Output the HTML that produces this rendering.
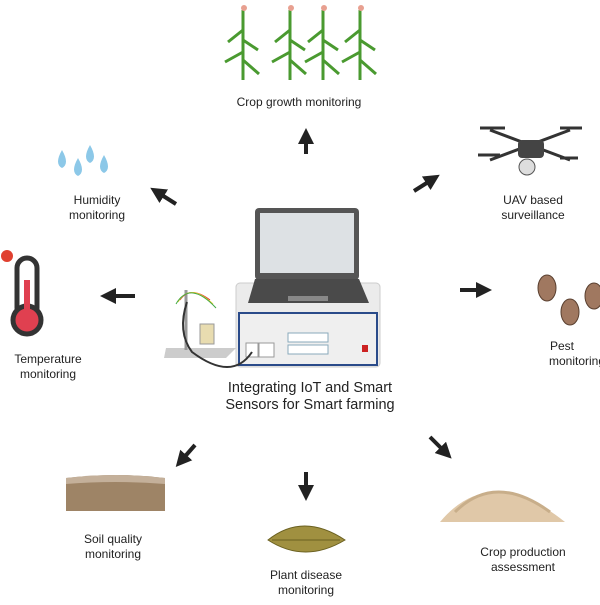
<!DOCTYPE html><html><head><style>body{margin:0;background:#fff}svg text{font-family:"Liberation Sans",sans-serif;fill:#222}</style></head><body>
<svg width="600" height="600" viewBox="0 0 600 600" xmlns="http://www.w3.org/2000/svg">
<defs><marker id="a" markerWidth="4" markerHeight="4" refX="2" refY="2" orient="auto" markerUnits="strokeWidth"><path d="M0,0L4,2L0,4z" fill="#222"/></marker></defs>
<g stroke="#222" stroke-width="4" marker-end="url(#a)">
<line x1="306" y1="154" x2="306" y2="136"/><line x1="176" y1="204" x2="157" y2="192"/><line x1="414" y1="191" x2="433" y2="179"/>
<line x1="135" y1="296" x2="108" y2="296"/><line x1="460" y1="290" x2="484" y2="290"/><line x1="195" y1="445" x2="181" y2="461"/>
<line x1="306" y1="472" x2="306" y2="493"/><line x1="430" y1="437" x2="446" y2="453"/></g>
<!-- corn -->
<g stroke="#4a9a30" stroke-width="3" fill="none">
<path d="M243 10V80M290 10V80M323 10V80M360 10V80"/>
<path d="M243 30l-15 12M243 40l15 10M243 52l-18 10M243 60l16 14M290 30l-15 12M290 40l15 10M290 52l-18 10M290 60l16 14M323 30l-15 12M323 40l15 10M323 52l-18 10M323 60l16 14M360 30l-15 12M360 40l15 10M360 52l-18 10M360 60l16 14"/></g>
<g fill="#e8a090"><circle cx="244" cy="8" r="3"/><circle cx="291" cy="8" r="3"/><circle cx="324" cy="8" r="3"/><circle cx="361" cy="8" r="3"/></g>
<!-- drops -->
<g fill="#8cc8e8"><path d="M62 150q-8 14 0 18q8-4 0-18z"/><path d="M78 158q-8 14 0 18q8-4 0-18z"/><path d="M90 145q-8 14 0 18q8-4 0-18z"/><path d="M104 155q-8 14 0 18q8-4 0-18z"/></g>
<!-- thermometer -->
<rect x="17" y="258" width="20" height="60" rx="10" fill="#fff" stroke="#333" stroke-width="5"/><circle cx="27" cy="320" r="14" fill="#e04050" stroke="#333" stroke-width="5"/><rect x="24" y="280" width="6" height="40" fill="#e04050"/>
<circle cx="7" cy="256" r="6" fill="#e04030"/>
<!-- drone -->
<g stroke="#333" stroke-width="3"><line x1="490" y1="130" x2="570" y2="160"/><line x1="570" y1="130" x2="490" y2="160"/><line x1="480" y1="128" x2="505" y2="128"/><line x1="560" y1="128" x2="582" y2="128"/><line x1="478" y1="155" x2="500" y2="155"/><line x1="560" y1="158" x2="578" y2="158"/></g>
<rect x="518" y="140" width="26" height="18" rx="4" fill="#444"/><ellipse cx="527" cy="167" rx="8" ry="8" fill="#ddd" stroke="#555"/>
<!-- beetles -->
<g fill="#a07860" stroke="#5a4030"><ellipse cx="547" cy="288" rx="9" ry="13"/><ellipse cx="570" cy="312" rx="9" ry="13"/><ellipse cx="594" cy="296" rx="9" ry="13"/></g>
<!-- soil -->
<path d="M66 478q50-6 99 0v33H66z" fill="#9e8466"/><path d="M66 478q50-6 99 0v6q-50-4-99 0z" fill="#c4b09a"/>
<!-- leaf -->
<path d="M268 540q35-28 77 0q-40 24-77 0z" fill="#a09040" stroke="#6a6020"/><line x1="272" y1="540" x2="340" y2="540" stroke="#6a6020"/>
<!-- grain pile -->
<path d="M440 522q50-60 125 0z" fill="#e0c8a8"/><path d="M455 512q40-40 95 0" stroke="#c8ae8a" stroke-width="3" fill="none"/>
<!-- instrument -->
<rect x="236" y="283" width="144" height="84" rx="4" fill="#ebebeb" stroke="#ccc"/>
<rect x="239" y="313" width="138" height="52" fill="#efefef" stroke="#2a4b8a" stroke-width="2"/>
<rect x="288" y="333" width="40" height="9" fill="#fff" stroke="#8ab"/><rect x="288" y="345" width="40" height="9" fill="#fff" stroke="#8ab"/>
<rect x="362" y="345" width="6" height="7" fill="#c22"/><rect x="246" y="343" width="12" height="14" fill="#fff" stroke="#999"/><rect x="259" y="343" width="15" height="14" fill="#fff" stroke="#999"/>
<!-- laptop -->
<rect x="255" y="208" width="104" height="72" rx="4" fill="#555"/><rect x="260" y="213" width="94" height="60" fill="#dde1e4"/>
<path d="M248 303l7-24h104l10 24z" fill="#4a4a4a"/><rect x="288" y="296" width="40" height="5" fill="#888"/>
<path d="M166 348h70l-10 10h-62z" fill="#ccc"/><line x1="186" y1="290" x2="186" y2="350" stroke="#999" stroke-width="3"/>
<rect x="200" y="324" width="14" height="20" fill="#e8dcb0" stroke="#999"/>
<path d="M252 352q-20 30-60 0q-15-20-5-50" stroke="#333" stroke-width="2" fill="none"/>
<path d="M180 300q10-15 30 0" stroke="#d33" fill="none"/><path d="M178 302q12-20 35 2" stroke="#ec3" fill="none"/><path d="M176 304q14-24 40 4" stroke="#4a4" fill="none"/>
<text x="310" y="392" font-size="14.5" text-anchor="middle">Integrating IoT and Smart</text>
<text x="310" y="409" font-size="14.5" text-anchor="middle">Sensors for Smart farming</text>
<g font-size="12" text-anchor="middle">
<text x="299" y="106">Crop growth monitoring</text>
<text x="97" y="204">Humidity</text><text x="97" y="219">monitoring</text>
<text x="533" y="204">UAV based</text><text x="533" y="219">surveillance</text>
<text x="48" y="363">Temperature</text><text x="48" y="378">monitoring</text>
<text x="562" y="350">Pest</text><text x="577" y="365">monitoring</text>
<text x="113" y="543">Soil quality</text><text x="113" y="558">monitoring</text>
<text x="306" y="579">Plant disease</text><text x="306" y="594">monitoring</text>
<text x="523" y="556">Crop production</text><text x="523" y="571">assessment</text></g>
</svg></body></html>
